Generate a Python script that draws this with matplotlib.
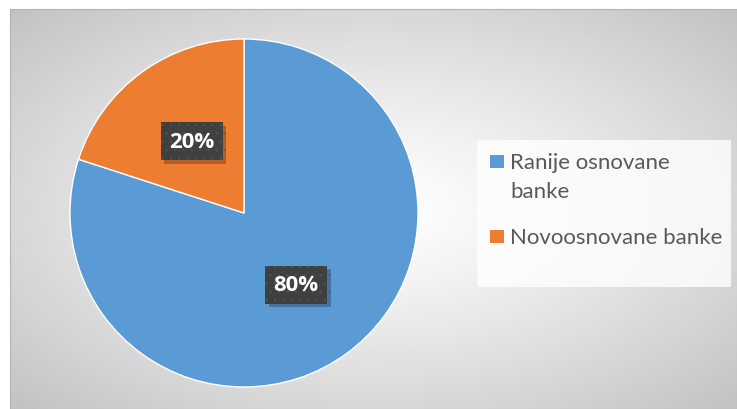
import textwrap
import numpy as np
import matplotlib.pyplot as plt
from matplotlib.patches import Rectangle
from matplotlib import patheffects

categories = ['Ranije osnovane banke', 'Novoosnovane banke']
shares = [80, 20]
colors = ['#5B9BD5', '#ED7D31']

W, H = 737, 410
plt.rcParams['hatch.linewidth'] = 0.2
fig = plt.figure(figsize=(W / 100, H / 100), dpi=100)
fig.patch.set_facecolor('white')


def box(x0, y0, x1, y1):
    # pixel box (top-left origin) -> figure fraction rect
    return [x0 / W, 1 - y1 / H, (x1 - x0) / W, (y1 - y0) / H]


# chart area with a radial grey gradient
bg = fig.add_axes(box(10, 10, W, H))
gx, gy = np.meshgrid(np.linspace(-1, 1, 400), np.linspace(-1, 1, 240))
d = np.sqrt(gx ** 2 + gy ** 2) / np.sqrt(2)
shade = 1 - 0.24 * d ** 1.2
bg.imshow(shade, cmap='gray', vmin=0, vmax=1, extent=(0, 1, 0, 1),
          aspect='auto', interpolation='bilinear')
bg.set_xticks([])
bg.set_yticks([])
for s in bg.spines.values():
    s.set_color('#b4b4b4')
    s.set_linewidth(0.8)

# pie
ax = fig.add_axes(box(70, 40, 418, 388))
wedges, texts, autotexts = ax.pie(
    shares, colors=colors, startangle=90, counterclock=False,
    autopct=lambda p: f'{p:.0f}%', pctdistance=0.51,
    wedgeprops=dict(edgecolor='white', linewidth=1),
    textprops=dict(color='white', fontsize=16, fontweight='bold',
                   family=['Open Sans', 'DejaVu Sans']))
ax.set_xlim(-1, 1)
ax.set_ylim(-1, 1)

for t in autotexts:
    t.set_bbox(dict(boxstyle='square,pad=0.38', facecolor='#404040',
                    edgecolor='#595959', linewidth=0, hatch='..'))
    t.get_bbox_patch().set_path_effects([
        patheffects.SimplePatchShadow(offset=(2.5, -2.5), shadow_rgbFace='black',
                                      alpha=0.25),
        patheffects.Normal()])

# legend panel
fig.patches.append(Rectangle((477 / W, 1 - 288 / H), 254 / W, 147 / H,
                             transform=fig.transFigure, facecolor='white',
                             alpha=0.8, edgecolor='none', zorder=1))

y = 169
for label, c in zip(categories, colors):
    lines = textwrap.wrap(label, 18)
    fig.patches.append(Rectangle((490 / W, 1 - y / H), 14 / W, 13 / H,
                                 transform=fig.transFigure, facecolor=c,
                                 edgecolor='none', zorder=2))
    for k, line in enumerate(lines):
        fig.text(510 / W, 1 - (y + 29 * k) / H, line, fontsize=16,
                 color='#595959', family=['Lato', 'DejaVu Sans'],
                 va='baseline', ha='left')
    y += 29 * (len(lines) - 1) + 46

fig.savefig('out.png', dpi=100)
